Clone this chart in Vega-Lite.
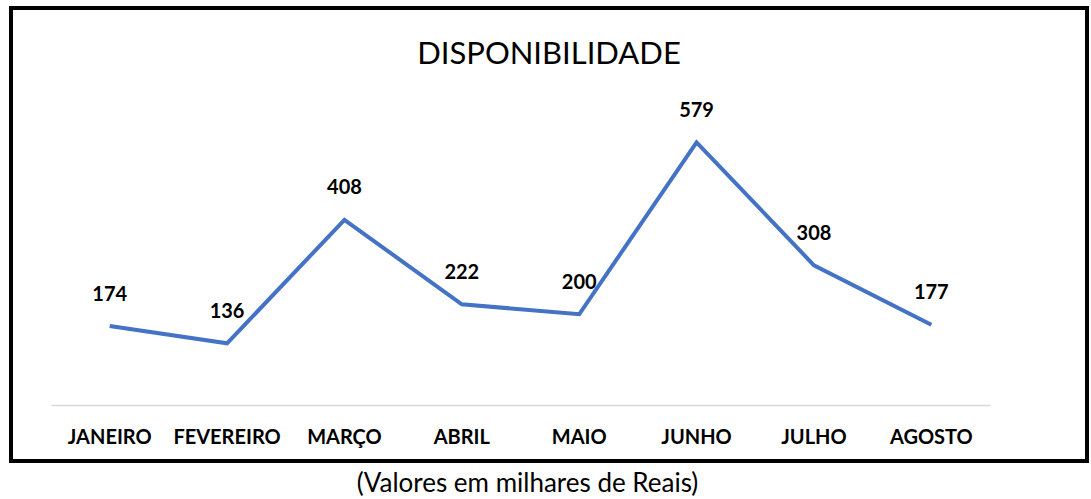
{
  "$schema": "https://vega.github.io/schema/vega-lite/v6.json",
  "width": 1076,
  "height": 453,
  "autosize": {"type": "none"},
  "padding": {"left": 11, "top": 8, "right": 4, "bottom": 38},
  "background": "white",
  "title": {
    "text": "DISPONIBILIDADE",
    "orient": "top",
    "anchor": "middle",
    "frame": "group",
    "offset": -58.5,
    "dy": 28,
    "baseline": "alphabetic",
    "font": "Lato",
    "fontSize": 31,
    "fontWeight": "normal",
    "color": "black"
  },
  "data": {
    "values": [
      {"mes": "JANEIRO", "valor": 174},
      {"mes": "FEVEREIRO", "valor": 136},
      {"mes": "MARÇO", "valor": 408},
      {"mes": "ABRIL", "valor": 222},
      {"mes": "MAIO", "valor": 200},
      {"mes": "JUNHO", "valor": 579},
      {"mes": "JULHO", "valor": 308},
      {"mes": "AGOSTO", "valor": 177}
    ]
  },
  "encoding": {
    "x": {
      "field": "mes",
      "type": "nominal",
      "sort": null,
      "scale": {"type": "band", "range": [40, 979], "paddingInner": 0, "paddingOuter": 0},
      "axis": {
        "orient": "bottom",
        "offset": -56,
        "title": "(Valores em milhares de Reais)",
        "titleX": 516,
        "titleY": 86,
        "titleBaseline": "alphabetic",
        "titleFont": "Lato",
        "titleFontSize": 26,
        "titleFontWeight": "normal",
        "titleColor": "black",
        "labelFont": "Lato",
        "labelFontSize": 20,
        "labelFontWeight": "bold",
        "labelColor": "black",
        "labelPadding": 22,
        "labelAngle": 0,
        "labelOverlap": false,
        "ticks": false,
        "domainColor": "#d9d9d9",
        "domainWidth": 1.5,
        "grid": false
      }
    },
    "y": {
      "field": "valor",
      "type": "quantitative",
      "scale": {"domain": [0, 700], "range": [397, 79.4], "nice": false, "zero": false},
      "axis": null
    }
  },
  "layer": [
    {"mark": {"type": "line", "color": "#4472C4", "strokeWidth": 4}},
    {
      "mark": {"type": "text", "font": "Lato", "fontSize": 20, "fontWeight": "bold", "baseline": "alphabetic", "dy": -25.5, "color": "black"},
      "encoding": {"text": {"field": "valor", "type": "quantitative"}}
    }
  ],
  "config": {"view": {"stroke": "black", "strokeWidth": 4}}
}
